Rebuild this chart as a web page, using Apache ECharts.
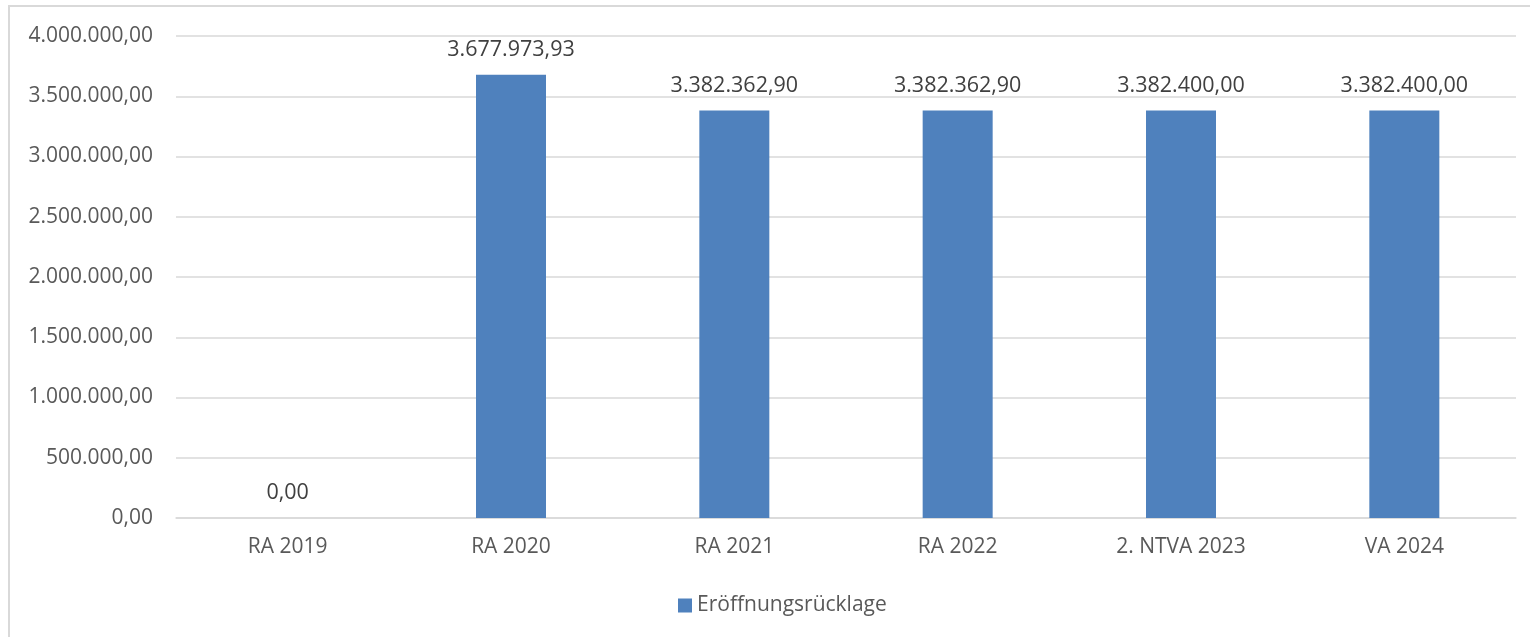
<!DOCTYPE html>
<html>
<head>
<meta charset="utf-8">
<script src="https://cdn.jsdelivr.net/npm/echarts@6/dist/echarts.min.js"></script>
<style>
html,body{margin:0;padding:0;background:#fff;}
#c{width:1530px;height:637px;}
</style>
</head>
<body>
<div id="c"></div>
<script>
const categories = ['RA 2019', 'RA 2020', 'RA 2021', 'RA 2022', '2. NTVA 2023', 'VA 2024'];
const seriesName = 'Eröffnungsrücklage';
const values = [0, 3677973.93, 3382362.90, 3382362.90, 3382400.00, 3382400.00];
const yTicks = [0, 500000, 1000000, 1500000, 2000000, 2500000, 3000000, 3500000, 4000000];

function fmt(v) {
  const fixed = Number(v).toFixed(2);
  const parts = fixed.split('.');
  const intPart = parts[0].replace(/\B(?=(\d{3})+(?!\d))/g, '.');
  return intPart + ',' + parts[1];
}

const FONT = 'Open Sans';
const TXT = '#595959';
const chart = echarts.init(document.getElementById('c'), null, {renderer: 'canvas'});
chart.setOption({
  animation: false,
  backgroundColor: '#fff',
  graphic: [{
    type: 'rect',
    shape: {x: 9, y: 6, width: 1600, height: 700},
    style: {fill: 'none', stroke: '#d9d9d9', lineWidth: 2},
    silent: true
  }],
  grid: {left: 176, right: 14, top: 36, bottom: 119},
  legend: {
    data: [seriesName],
    bottom: 16,
    left: 673,
    icon: 'rect',
    itemWidth: 14,
    itemHeight: 14,
    itemGap: 6,
    textStyle: {fontFamily: FONT, fontSize: 21, color: TXT}
  },
  xAxis: {
    type: 'category',
    data: categories,
    axisLine: {show: true, lineStyle: {color: '#d9d9d9', width: 1.5}},
    axisTick: {show: false},
    axisLabel: {fontFamily: FONT, fontSize: 21, color: TXT, margin: 19}
  },
  yAxis: {
    type: 'value',
    min: yTicks[0],
    max: yTicks[yTicks.length - 1],
    interval: yTicks[1] - yTicks[0],
    axisLine: {show: false},
    axisTick: {show: false},
    splitLine: {lineStyle: {color: '#d9d9d9', width: 1.5}},
    axisLabel: {fontFamily: FONT, fontSize: 21, color: TXT, margin: 23, formatter: v => fmt(v)}
  },
  series: [{
    name: seriesName,
    type: 'bar',
    data: values,
    barWidth: 70,
    itemStyle: {color: '#4f81bd'},
    label: {
      show: true,
      position: 'top',
      distance: 14,
      fontFamily: FONT,
      fontSize: 21.5,
      color: '#404040',
      formatter: p => fmt(p.value)
    }
  }]
});
</script>
</body>
</html>
